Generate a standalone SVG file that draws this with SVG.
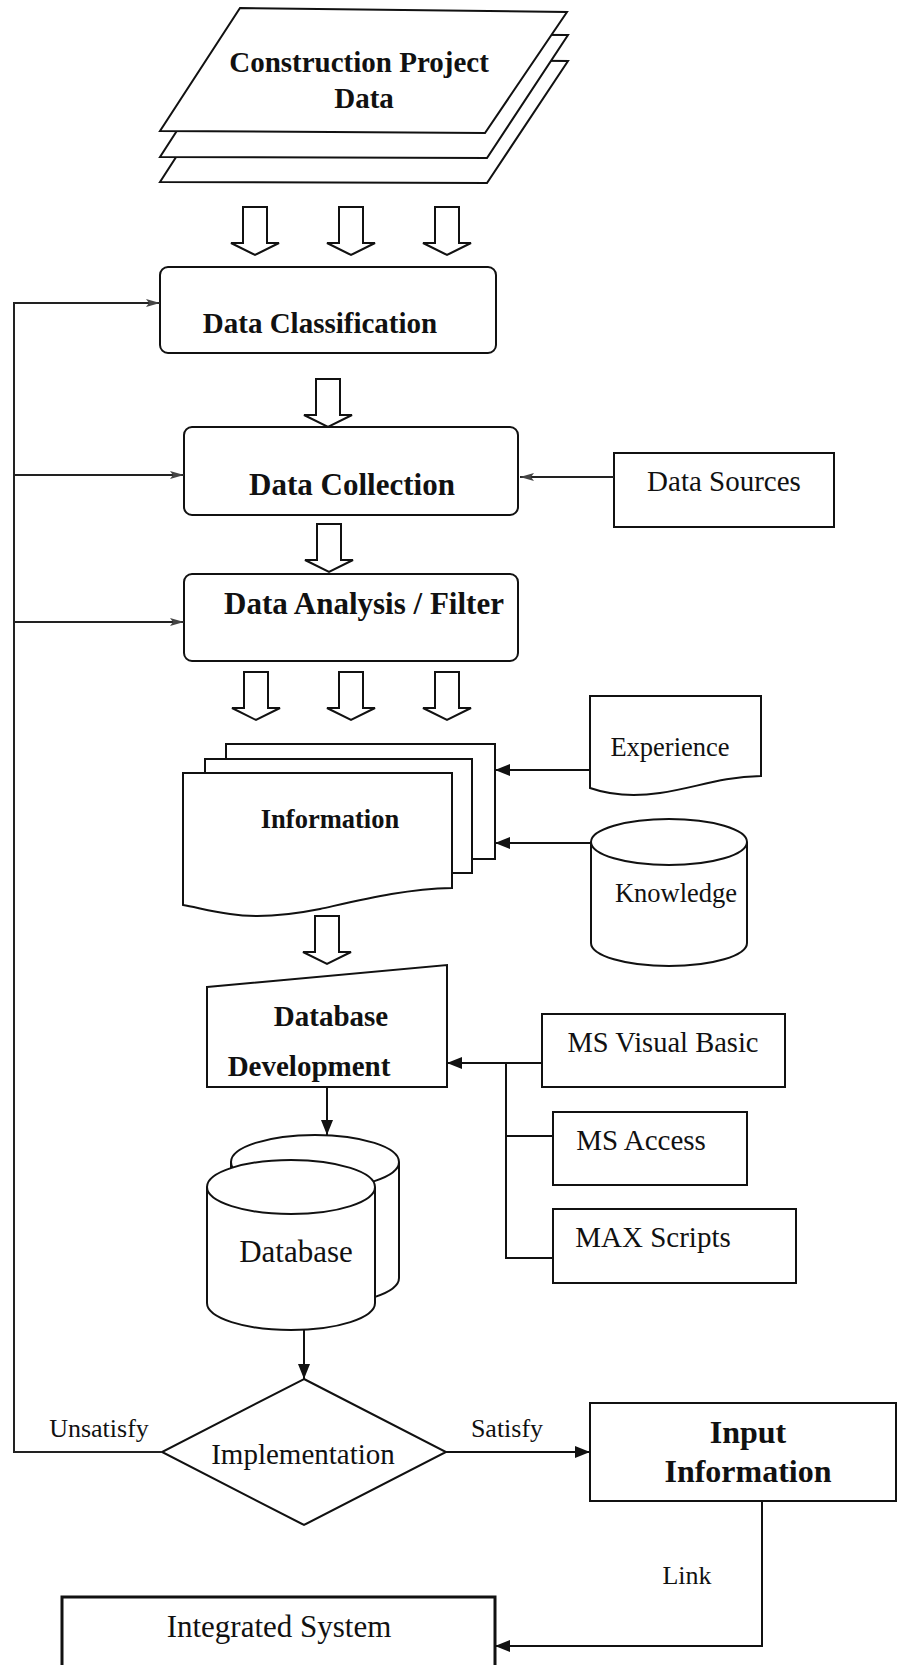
<svg xmlns="http://www.w3.org/2000/svg" xmlns:xlink="http://www.w3.org/1999/xlink" width="898" height="1665" viewBox="0 0 898 1665">
  <style>
    .shape { fill: #fff; stroke: #111; stroke-width: 2; }
    .line { fill: none; stroke: #111; stroke-width: 2; }
    .thin { fill: none; stroke: #222; stroke-width: 2; }
    .hollow { fill: #fff; stroke: #111; stroke-width: 2; stroke-linejoin: miter; }
    text { font-family: "Liberation Serif", "Times New Roman", serif; fill: #111; text-anchor: middle; }
    .b { font-weight: bold; }
  </style>
  <defs>
    <marker id="arrow" viewBox="0 0 15 12" refX="15" refY="6" markerWidth="15" markerHeight="12" markerUnits="userSpaceOnUse" orient="auto">
      <path d="M0,0 L15,6 L0,12 Z" fill="#111"/>
    </marker>
    <marker id="tick" viewBox="0 0 14 10" refX="14" refY="5" markerWidth="14" markerHeight="10" markerUnits="userSpaceOnUse" orient="auto">
      <path d="M0,1 L14,5 L0,9 L3,5 Z" fill="#444"/>
    </marker>
    <!-- wide outlined block arrow pointing down, origin at top centre of shaft -->
    <path id="block" d="M-12,0 H12 V36 H24 L0,48 L-24,36 H-12 Z"/>
  </defs>

  <rect width="898" height="1665" fill="#fff"/>

  <!-- stacked data sheets -->
  <g id="project-data">
    <polygon class="shape" points="240,58 568,61 487,183 160,182"/>
    <polygon class="shape" points="240,33 568,35 487,158 160,157"/>
    <polygon class="shape" points="240,8 567,12 485,133 160,131"/>
    <text class="b" x="359" y="72" font-size="29">Construction Project</text>
    <text class="b" x="364" y="108" font-size="29">Data</text>
  </g>

  <g id="data-classification">
    <rect class="shape" x="160" y="267" width="336" height="86" rx="8"/>
    <text class="b" x="320" y="333" font-size="29">Data Classification</text>
  </g>

  <g id="data-collection">
    <rect class="shape" x="184" y="427" width="334" height="88" rx="8"/>
    <text class="b" x="352" y="495" font-size="31">Data Collection</text>
  </g>

  <g id="data-sources">
    <rect class="shape" x="614" y="453" width="220" height="74"/>
    <text x="724" y="491" font-size="29">Data Sources</text>
  </g>

  <g id="data-analysis">
    <rect class="shape" x="184" y="574" width="334" height="87" rx="8"/>
    <text class="b" x="364" y="614" font-size="31">Data Analysis / Filter</text>
  </g>

  <g id="information">
    <path class="shape" d="M226,744 H495 V859 H472 V759 H226 Z"/>
    <path class="shape" d="M205,759 H472 V873 H452 V773 H205 Z"/>
    <path class="shape" d="M183,773 H452 V888 C405,889 365,899 320,909 C285,916 255,918 230,914 C210,911 195,907 183,905 Z"/>
    <text class="b" x="330" y="828" font-size="26.5">Information</text>
  </g>

  <g id="experience">
    <path class="shape" d="M590,696 H761 V776 C720,777 695,788 660,793 C632,797 610,795 590,788 Z"/>
    <text x="670" y="756" font-size="26.5">Experience</text>
  </g>

  <g id="knowledge">
    <path class="shape" d="M591,842 V943 A78,23 0 0 0 747,943 V842"/>
    <ellipse class="shape" cx="669" cy="842" rx="78" ry="23"/>
    <text x="676" y="902" font-size="26.5">Knowledge</text>
  </g>

  <g id="database-development">
    <polygon class="shape" points="207,987 447,965 447,1087 207,1087"/>
    <text class="b" x="331" y="1026" font-size="29">Database</text>
    <text class="b" x="309" y="1076" font-size="29">Development</text>
  </g>

  <g id="ms-visual-basic">
    <rect class="shape" x="542" y="1014" width="243" height="73"/>
    <text x="663" y="1052" font-size="28.5">MS Visual Basic</text>
  </g>

  <g id="ms-access">
    <rect class="shape" x="553" y="1112" width="194" height="73"/>
    <text x="641" y="1150" font-size="29">MS Access</text>
  </g>

  <g id="max-scripts">
    <rect class="shape" x="553" y="1209" width="243" height="74"/>
    <text x="653" y="1247" font-size="29">MAX Scripts</text>
  </g>

  <g id="database">
    <!-- rear drum -->
    <path class="shape" d="M231,1162 V1278 A84,27 0 0 0 399,1278 V1162"/>
    <ellipse class="shape" cx="315" cy="1162" rx="84" ry="27"/>
    <!-- front drum -->
    <path class="shape" d="M207,1187 V1303 A84,27 0 0 0 375,1303 V1187"/>
    <ellipse class="shape" cx="291" cy="1187" rx="84" ry="27"/>
    <text x="296" y="1262" font-size="31">Database</text>
  </g>

  <g id="implementation">
    <polygon class="shape" points="304,1379 446,1452 304,1525 162,1452"/>
    <text x="303" y="1464" font-size="29">Implementation</text>
  </g>

  <g id="input-information">
    <rect class="shape" x="590" y="1403" width="306" height="98"/>
    <text class="b" x="748" y="1443" font-size="32">Input</text>
    <text class="b" x="748" y="1482" font-size="32">Information</text>
  </g>

  <g id="integrated-system">
    <rect x="62" y="1597" width="433" height="90" fill="#fff" stroke="#111" stroke-width="3"/>
    <text x="279" y="1637" font-size="31">Integrated System</text>
  </g>

  <g id="connectors">
    <!-- block arrows -->
    <use href="#block" xlink:href="#block" class="hollow" x="255" y="207"/>
    <use href="#block" xlink:href="#block" class="hollow" x="351" y="207"/>
    <use href="#block" xlink:href="#block" class="hollow" x="447" y="207"/>
    <use href="#block" xlink:href="#block" class="hollow" x="328" y="379"/>
    <use href="#block" xlink:href="#block" class="hollow" x="329" y="524"/>
    <use href="#block" xlink:href="#block" class="hollow" x="256" y="672"/>
    <use href="#block" xlink:href="#block" class="hollow" x="351" y="672"/>
    <use href="#block" xlink:href="#block" class="hollow" x="447" y="672"/>
    <use href="#block" xlink:href="#block" class="hollow" x="327" y="916"/>

    <!-- feedback loop -->
    <path class="thin" d="M162,1452 H14 V303 H160" marker-end="url(#tick)"/>
    <path class="thin" d="M14,475 H184" marker-end="url(#tick)"/>
    <path class="thin" d="M14,622 H184" marker-end="url(#tick)"/>
    <path class="thin" d="M614,477 H520" marker-end="url(#tick)"/>

    <!-- inputs to information -->
    <path class="line" d="M590,770 H495" marker-end="url(#arrow)"/>
    <path class="line" d="M591,843 H495" marker-end="url(#arrow)"/>

    <!-- tools bus -->
    <path class="line" d="M542,1063 H447" marker-end="url(#arrow)"/>
    <path class="line" d="M506,1063 V1258 H553"/>
    <path class="line" d="M506,1136 H553"/>

    <path class="line" d="M327,1087 V1135" marker-end="url(#arrow)"/>
    <path class="line" d="M304,1330 V1379" marker-end="url(#arrow)"/>
    <path class="line" d="M446,1452 H590" marker-end="url(#arrow)"/>
    <path class="line" d="M762,1501 V1646 H495" marker-end="url(#arrow)"/>

    <text x="99" y="1437" font-size="26">Unsatisfy</text>
    <text x="507" y="1437" font-size="26">Satisfy</text>
    <text x="687" y="1584" font-size="26">Link</text>
  </g>
</svg>
